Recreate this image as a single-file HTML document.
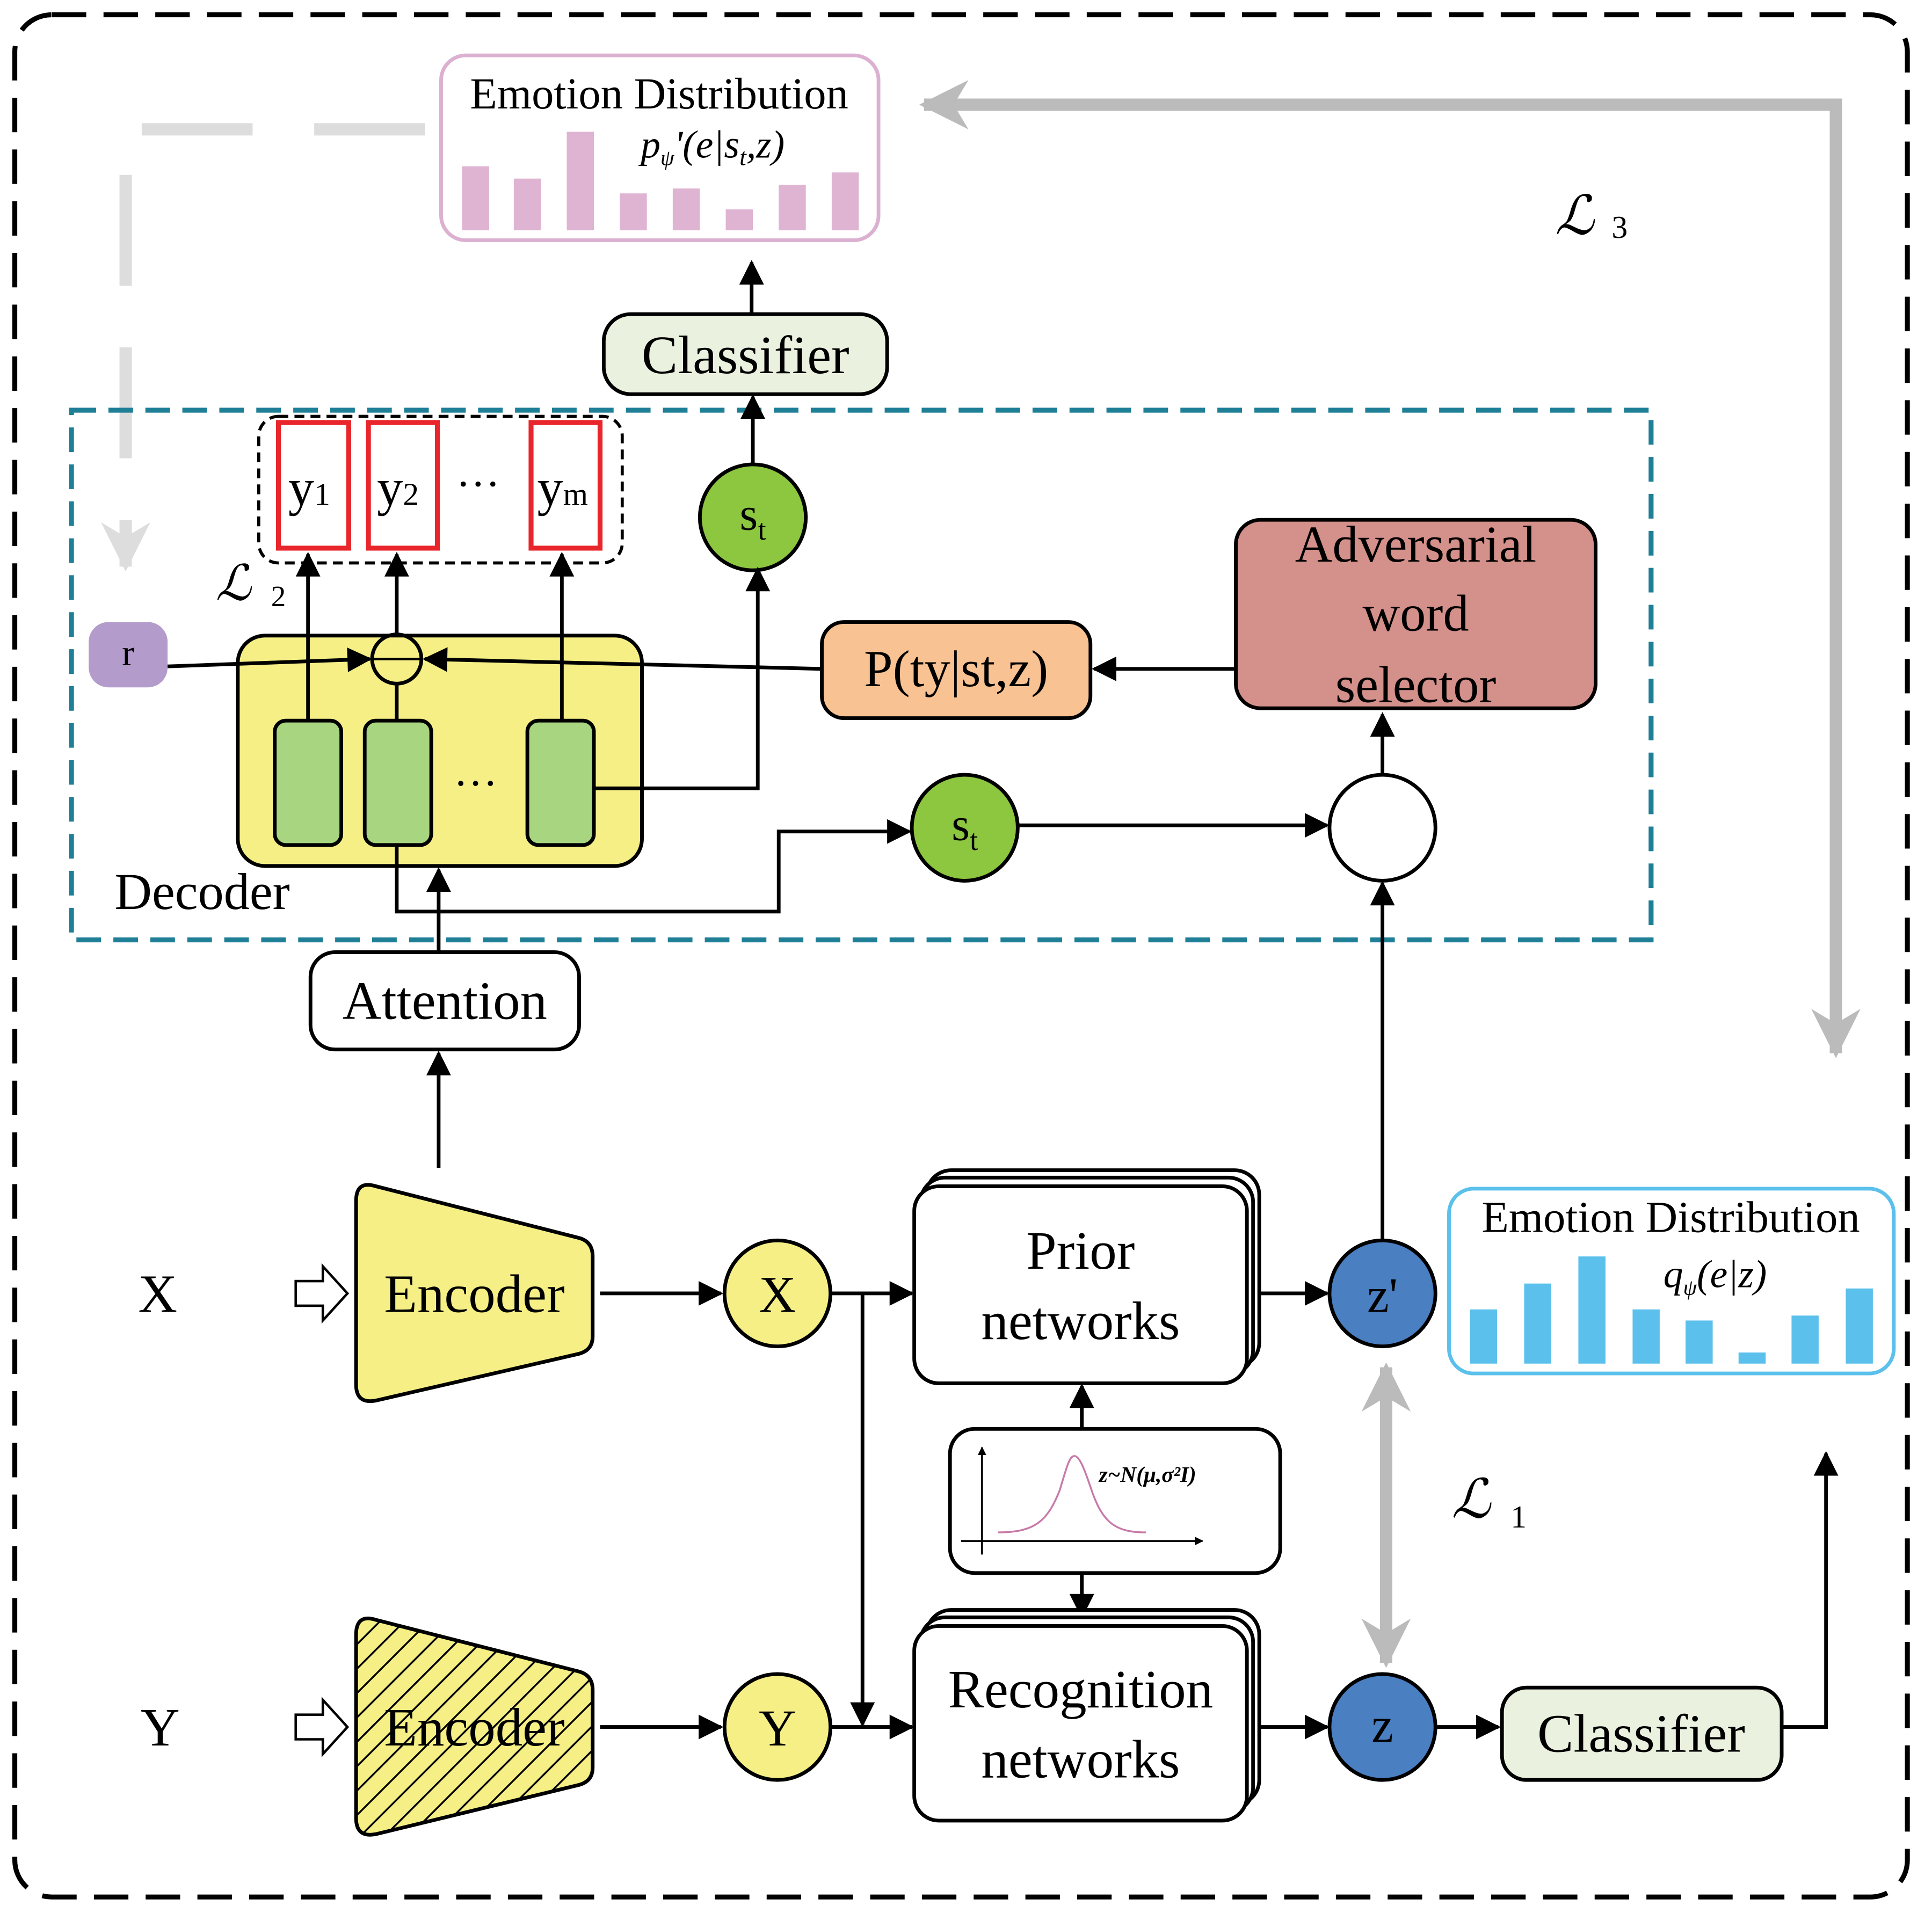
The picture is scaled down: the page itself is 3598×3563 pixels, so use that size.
<!DOCTYPE html>
<html><head><meta charset="utf-8"><style>
html,body{margin:0;padding:0;background:#fff}
svg{display:block}
text{font-family:"Liberation Serif",serif;fill:#000}
</style></head><body>
<svg width="3598" height="3563" viewBox="0 0 1568 1553" preserveAspectRatio="none" xmlns="http://www.w3.org/2000/svg">
<defs>
<marker id="a" viewBox="0 0 10 10" refX="9" refY="5" markerWidth="7" markerHeight="7" orient="auto-start-reverse" markerUnits="userSpaceOnUse"><path d="M0,0L10,5L0,10z" fill="#000"/></marker>
<marker id="ab" viewBox="0 0 10 10" refX="9" refY="5" markerWidth="24" markerHeight="20" orient="auto-start-reverse" markerUnits="userSpaceOnUse"><path d="M0,0L10,5L0,10z" fill="#000"/></marker>
<marker id="g" viewBox="0 0 10 10" refX="9" refY="5" markerWidth="40" markerHeight="40" orient="auto-start-reverse" markerUnits="userSpaceOnUse"><path d="M0,0L10,5L0,10L3,5z" fill="#bbb"/></marker>
<marker id="gl" viewBox="0 0 10 10" refX="9" refY="5" markerWidth="40" markerHeight="40" orient="auto-start-reverse" markerUnits="userSpaceOnUse"><path d="M0,0L10,5L0,10L3,5z" fill="#ddd"/></marker>
<pattern id="h" width="14" height="14" patternUnits="userSpaceOnUse" patternTransform="rotate(-45)"><rect width="14" height="14" fill="#f5ef86"/><line x1="0" y1="0" x2="14" y2="0" stroke="#000" stroke-width="3"/></pattern>
</defs>
<rect x="12" y="12" width="1536" height="1528" rx="30" fill="none" stroke="#000" stroke-width="4" stroke-dasharray="28,14"/>

<polyline points="1490,855 1490,85 750,85" fill="none" stroke="#bbb" stroke-width="10" marker-end="url(#g)" marker-start="url(#g)"/>
<polyline points="345,105 102,105 102,460" fill="none" stroke="#ddd" stroke-width="10" stroke-dasharray="90,50" marker-end="url(#gl)"/>
<text x="1262" y="190" font-size="44" font-style="italic">ℒ</text><text x="1308" y="193" font-size="26">3</text>

<rect x="358" y="45" width="355" height="150" rx="20" fill="#fff" stroke="#dbb0d0" stroke-width="3"/>
<text x="535" y="88" font-size="36" text-anchor="middle">Emotion Distribution</text>
<text x="520" y="128" font-size="32" font-style="italic">p<tspan font-size="18" dy="6">ψ</tspan><tspan dy="-6">'(e|s</tspan><tspan font-size="20" dy="6">t</tspan><tspan dy="-6">,z)</tspan></text>
<g fill="#dfb4d2"><rect x="375" y="135" width="22" height="52"/><rect x="417" y="145" width="22" height="42"/><rect x="460" y="107" width="22" height="80"/><rect x="503" y="157" width="22" height="30"/><rect x="546" y="153" width="22" height="34"/><rect x="589" y="170" width="22" height="17"/><rect x="632" y="150" width="22" height="37"/><rect x="675" y="140" width="22" height="47"/></g>

<line x1="610" y1="255" x2="610" y2="213" stroke="#000" stroke-width="3" marker-end="url(#ab)"/>
<rect x="490" y="255" width="230" height="65" rx="22" fill="#eaf1df" stroke="#000" stroke-width="3"/>
<text x="605" y="303" font-size="44" text-anchor="middle">Classifier</text>

<rect x="58" y="333" width="1282" height="430" fill="none" stroke="#1f7f96" stroke-width="4" stroke-dasharray="20,10"/>

<rect x="210" y="338" width="295" height="119" rx="16" fill="none" stroke="#000" stroke-width="2.5" stroke-dasharray="8,5"/>
<g fill="#fff" stroke="#e8262b" stroke-width="4"><rect x="226" y="343" width="57" height="102"/><rect x="299" y="343" width="56" height="102"/><rect x="431" y="343" width="56" height="102"/></g>
<text x="234" y="410" font-size="42">y<tspan font-size="26">1</tspan></text>
<text x="306" y="410" font-size="42">y<tspan font-size="26">2</tspan></text>
<text x="370" y="405" font-size="36">···</text>
<text x="436" y="410" font-size="42">y<tspan font-size="26">m</tspan></text>
<text x="175" y="487" font-size="40" font-style="italic">ℒ</text><text x="220" y="492" font-size="24">2</text>

<line x1="611" y1="377" x2="611" y2="322" stroke="#000" stroke-width="3" marker-end="url(#ab)"/>
<circle cx="611" cy="420" r="43" fill="#8dc63f" stroke="#000" stroke-width="3"/>
<text x="611" y="430" font-size="38" text-anchor="middle">s<tspan font-size="24" dy="8">t</tspan></text>

<rect x="1003" y="422" width="292" height="153" rx="20" fill="#d4908a" stroke="#000" stroke-width="3"/>
<text x="1149" y="456" font-size="42" text-anchor="middle">Adversarial</text>
<text x="1149" y="512" font-size="42" text-anchor="middle">word</text>
<text x="1149" y="570" font-size="42" text-anchor="middle">selector</text>

<rect x="667" y="505" width="218" height="78" rx="18" fill="#f9c293" stroke="#000" stroke-width="3"/>
<text x="776" y="557" font-size="42" text-anchor="middle">P(ty|st,z)</text>
<line x1="1003" y1="543" x2="888" y2="543" stroke="#000" stroke-width="3" marker-end="url(#ab)"/>

<rect x="193" y="516" width="328" height="187" rx="22" fill="#f5ef86" stroke="#000" stroke-width="3"/>
<g fill="#a8d57f" stroke="#000" stroke-width="3"><rect x="223" y="585" width="54" height="101" rx="9"/><rect x="296" y="585" width="54" height="101" rx="9"/><rect x="428" y="585" width="54" height="101" rx="9"/></g>
<text x="368" y="648" font-size="36">···</text>
<text x="93" y="738" font-size="42">Decoder</text>

<g stroke="#000" stroke-width="3" fill="none">
<line x1="667" y1="543" x2="345" y2="535" marker-end="url(#ab)"/>
<line x1="136" y1="541" x2="300" y2="535" marker-end="url(#ab)"/>
<line x1="250" y1="585" x2="250" y2="450" marker-end="url(#ab)"/>
<line x1="322" y1="585" x2="322" y2="556"/>
<line x1="322" y1="515" x2="322" y2="450" marker-end="url(#ab)"/>
<line x1="456" y1="585" x2="456" y2="450" marker-end="url(#ab)"/>
<polyline points="482,640 615,640 615,462" marker-end="url(#ab)"/>
<polyline points="322,686 322,740 632,740 632,675 738,675" marker-end="url(#ab)"/>
<line x1="825" y1="670" x2="1077" y2="670" marker-end="url(#ab)"/>
<line x1="1122" y1="628" x2="1122" y2="580" marker-end="url(#ab)"/>
<line x1="356" y1="773" x2="356" y2="706" marker-end="url(#ab)"/>
<line x1="356" y1="948" x2="356" y2="855" marker-end="url(#ab)"/>
</g>
<circle cx="322" cy="535" r="20" fill="none" stroke="#000" stroke-width="3"/>
<line x1="302" y1="535" x2="342" y2="535" stroke="#000" stroke-width="2"/>
<rect x="72" y="505" width="64" height="53" rx="16" fill="#b39ccb"/>
<text x="104" y="540" font-size="30" text-anchor="middle">r</text>

<circle cx="783" cy="672" r="43" fill="#8dc63f" stroke="#000" stroke-width="3"/>
<text x="783" y="682" font-size="38" text-anchor="middle">s<tspan font-size="24" dy="8">t</tspan></text>
<circle cx="1122" cy="672" r="43" fill="#fff" stroke="#000" stroke-width="3"/>

<rect x="252" y="773" width="218" height="79" rx="20" fill="#fff" stroke="#000" stroke-width="3"/>
<text x="361" y="827" font-size="44" text-anchor="middle">Attention</text>

<path d="M289,975 Q289,958 305,963 L470,1005 Q481,1008 481,1020 L481,1085 Q481,1096 470,1099 L305,1137 Q289,1140 289,1124 Z" fill="#f5ef86" stroke="#000" stroke-width="3"/>
<text x="385" y="1065" font-size="44" text-anchor="middle">Encoder</text>
<path d="M289,1327 Q289,1310 305,1315 L470,1357 Q481,1360 481,1372 L481,1435 Q481,1446 470,1449 L305,1489 Q289,1492 289,1476 Z" fill="url(#h)" stroke="#000" stroke-width="3"/>
<text x="385" y="1417" font-size="44" text-anchor="middle">Encoder</text>
<text x="128" y="1065" font-size="44" text-anchor="middle">X</text>
<text x="130" y="1417" font-size="44" text-anchor="middle">Y</text>
<path d="M240,1040 L262,1040 L262,1028 L282,1050 L262,1072 L262,1060 L240,1060 Z" fill="#fff" stroke="#000" stroke-width="2"/>
<path d="M240,1392 L262,1392 L262,1380 L282,1402 L262,1424 L262,1412 L240,1412 Z" fill="#fff" stroke="#000" stroke-width="2"/>

<g stroke="#000" stroke-width="3" fill="none">
<line x1="487" y1="1050" x2="585" y2="1050" marker-end="url(#ab)"/>
<line x1="674" y1="1050" x2="740" y2="1050" marker-end="url(#ab)"/>
<line x1="700" y1="1050" x2="700" y2="1400" marker-end="url(#ab)"/>
<line x1="487" y1="1402" x2="585" y2="1402" marker-end="url(#ab)"/>
<line x1="674" y1="1402" x2="740" y2="1402" marker-end="url(#ab)"/>
<line x1="1022" y1="1050" x2="1077" y2="1050" marker-end="url(#ab)"/>
<line x1="1022" y1="1402" x2="1077" y2="1402" marker-end="url(#ab)"/>
<line x1="1122" y1="1007" x2="1122" y2="717" marker-end="url(#ab)"/>
<line x1="1165" y1="1402" x2="1216" y2="1402" marker-end="url(#ab)"/>
<polyline points="1446,1402 1482,1402 1482,1180" marker-end="url(#ab)"/>
<line x1="878" y1="1160" x2="878" y2="1125" marker-end="url(#ab)"/>
<line x1="878" y1="1277" x2="878" y2="1312" marker-end="url(#ab)"/>
</g>
<circle cx="631" cy="1050" r="43" fill="#f5ef86" stroke="#000" stroke-width="3"/>
<text x="631" y="1065" font-size="42" text-anchor="middle">X</text>
<circle cx="631" cy="1402" r="43" fill="#f5ef86" stroke="#000" stroke-width="3"/>
<text x="631" y="1417" font-size="42" text-anchor="middle">Y</text>

<g fill="#fff" stroke="#000" stroke-width="3">
<rect x="752" y="950" width="270" height="160" rx="20"/><rect x="747" y="956" width="270" height="160" rx="20"/><rect x="742" y="963" width="270" height="160" rx="20"/>
<rect x="752" y="1307" width="270" height="158" rx="20"/><rect x="747" y="1313" width="270" height="158" rx="20"/><rect x="742" y="1320" width="270" height="158" rx="20"/>
</g>
<text x="877" y="1030" font-size="44" text-anchor="middle">Prior</text>
<text x="877" y="1087" font-size="44" text-anchor="middle">networks</text>
<text x="877" y="1386" font-size="44" text-anchor="middle">Recognition</text>
<text x="877" y="1443" font-size="44" text-anchor="middle">networks</text>

<rect x="771" y="1160" width="268" height="117" rx="20" fill="#fff" stroke="#000" stroke-width="3"/>
<line x1="797" y1="1262" x2="797" y2="1175" stroke="#000" stroke-width="1.5" marker-end="url(#a)"/>
<line x1="780" y1="1251" x2="976" y2="1251" stroke="#000" stroke-width="1.5" marker-end="url(#a)"/>
<path d="M810,1244 C840,1244 850,1235 860,1210 C866,1190 868,1182 872,1182 C876,1182 880,1192 886,1210 C895,1236 905,1244 930,1244" fill="none" stroke="#c77aa8" stroke-width="1.5"/>
<text x="892" y="1203" font-size="18" font-style="italic" font-weight="bold">z~N(μ,σ²I)</text>

<circle cx="1122" cy="1050" r="43" fill="#4a7fc1" stroke="#000" stroke-width="3"/>
<text x="1122" y="1065" font-size="40" text-anchor="middle">z'</text>
<circle cx="1122" cy="1402" r="43" fill="#4a7fc1" stroke="#000" stroke-width="3"/>
<text x="1122" y="1414" font-size="40" text-anchor="middle">z</text>
<line x1="1125" y1="1110" x2="1125" y2="1350" stroke="#bbb" stroke-width="10" marker-end="url(#g)" marker-start="url(#g)"/>
<text x="1178" y="1232" font-size="44" font-style="italic">ℒ</text><text x="1226" y="1240" font-size="26">1</text>

<rect x="1219" y="1370" width="227" height="75" rx="20" fill="#eaf1df" stroke="#000" stroke-width="3"/>
<text x="1332" y="1422" font-size="44" text-anchor="middle">Classifier</text>

<rect x="1176" y="965" width="361" height="150" rx="20" fill="#fff" stroke="#5bc0eb" stroke-width="3"/>
<text x="1356" y="1000" font-size="36" text-anchor="middle">Emotion Distribution</text>
<text x="1350" y="1045" font-size="32" font-style="italic">q<tspan font-size="18" dy="6">ψ</tspan><tspan dy="-6">(e|z)</tspan></text>
<g fill="#5bc0eb"><rect x="1193" y="1063" width="22" height="44"/><rect x="1237" y="1042" width="22" height="65"/><rect x="1281" y="1020" width="22" height="87"/><rect x="1325" y="1063" width="22" height="44"/><rect x="1368" y="1072" width="22" height="35"/><rect x="1411" y="1098" width="22" height="9"/><rect x="1454" y="1068" width="22" height="39"/><rect x="1498" y="1046" width="22" height="61"/></g>
</svg>
</body></html>
